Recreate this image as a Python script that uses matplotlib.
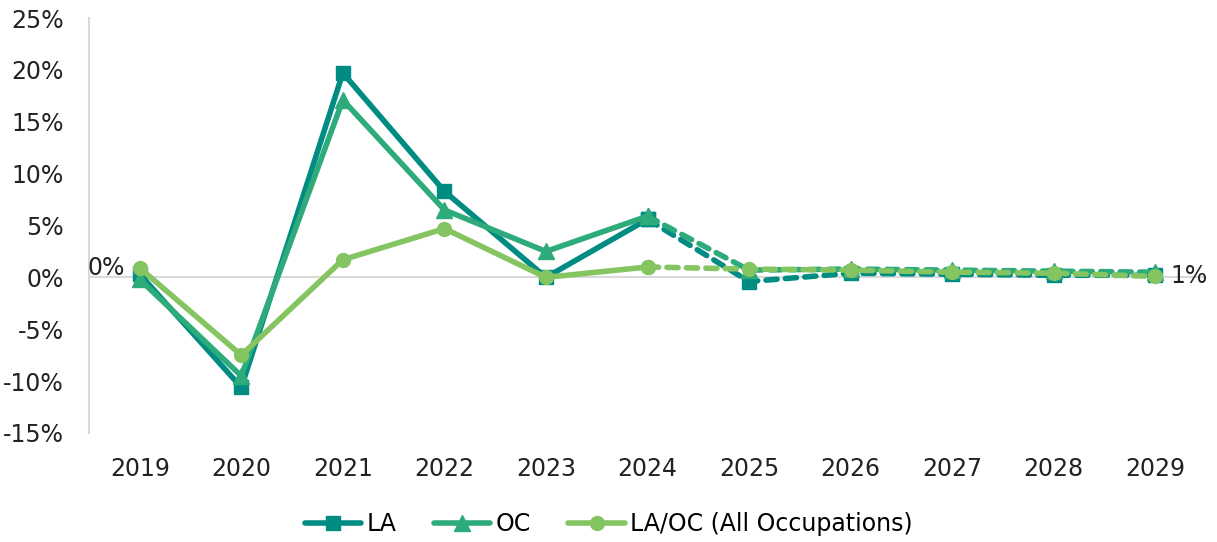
import matplotlib.pyplot as plt
from matplotlib.lines import Line2D

years = ["2019", "2020", "2021", "2022", "2023", "2024",
         "2025", "2026", "2027", "2028", "2029"]
la = [0.3, -10.6, 19.7, 8.3, 0.0, 5.6, -0.4, 0.4, 0.3, 0.2, 0.2]
oc = [-0.2, -9.5, 17.1, 6.5, 2.5, 5.9, 0.7, 0.8, 0.7, 0.6, 0.5]
all_occ = [0.9, -7.5, 1.7, 4.7, 0.0, 1.0, 0.8, 0.7, 0.5, 0.4, 0.1]
yticks = [-15, -10, -5, 0, 5, 10, 15, 20, 25]
split = 5  # last actual year (2024), forecast afterwards

plt.rcParams["font.family"] = ["DejaVu Sans"]

fig = plt.figure(figsize=(12.17, 5.42), dpi=100)
ax = fig.add_axes([89 / 1217, 1 - 433 / 542, (1206 - 89) / 1217, (433 - 18) / 542])

x = list(range(len(years)))
series = [
    ("LA", la, "#008C82", "s", 10),
    ("OC", oc, "#2EAB7A", "^", 11),
    ("LA/OC (All Occupations)", all_occ, "#84C562", "o", 10),
]

lw = 4.0
handles = []
for name, vals, col, mk, ms in series:
    ax.plot(x[:split + 1], vals[:split + 1], color=col, lw=lw, marker=mk,
            ms=ms, solid_capstyle="round", solid_joinstyle="round", zorder=3)
    ax.plot(x[split:], vals[split:], color=col, lw=lw, marker=mk, ms=ms,
            linestyle=(0, (2.0, 1.5)), dash_capstyle="round", zorder=3)
    handles.append(Line2D([], [], color=col, lw=lw, marker=mk, ms=ms,
                          solid_capstyle="round", label=name))

ax.axhline(0, color="#d9d9d9", lw=1.5, zorder=1)

ax.text(x[0] - 0.15, all_occ[0], "0%", ha="right", va="center", fontsize=17, color="#222222")
ax.text(x[-1] + 0.15, all_occ[-1], "1%", ha="left", va="center", fontsize=17, color="#222222")

ax.set_xlim(-0.5, len(years) - 0.5)
ax.set_ylim(-15, 25)
ax.set_xticks(x)
ax.set_xticklabels(years, fontsize=17, color="#222222")
ax.set_yticks(yticks)
ax.set_yticklabels([f"{t}%" for t in yticks], fontsize=17, color="#222222")
ax.tick_params(length=0)
ax.tick_params(axis="x", pad=17)
ax.tick_params(axis="y", pad=18)

for s in ["top", "right", "bottom"]:
    ax.spines[s].set_visible(False)
ax.spines["left"].set_color("#d9d9d9")
ax.spines["left"].set_linewidth(1.5)

fig.legend(handles=handles, loc="lower center", bbox_to_anchor=(0.5, -0.028),
           ncol=3, frameon=False, fontsize=17, handlelength=2.4,
           handletextpad=0.2, columnspacing=1.6)

fig.savefig("out.png", dpi=100)
